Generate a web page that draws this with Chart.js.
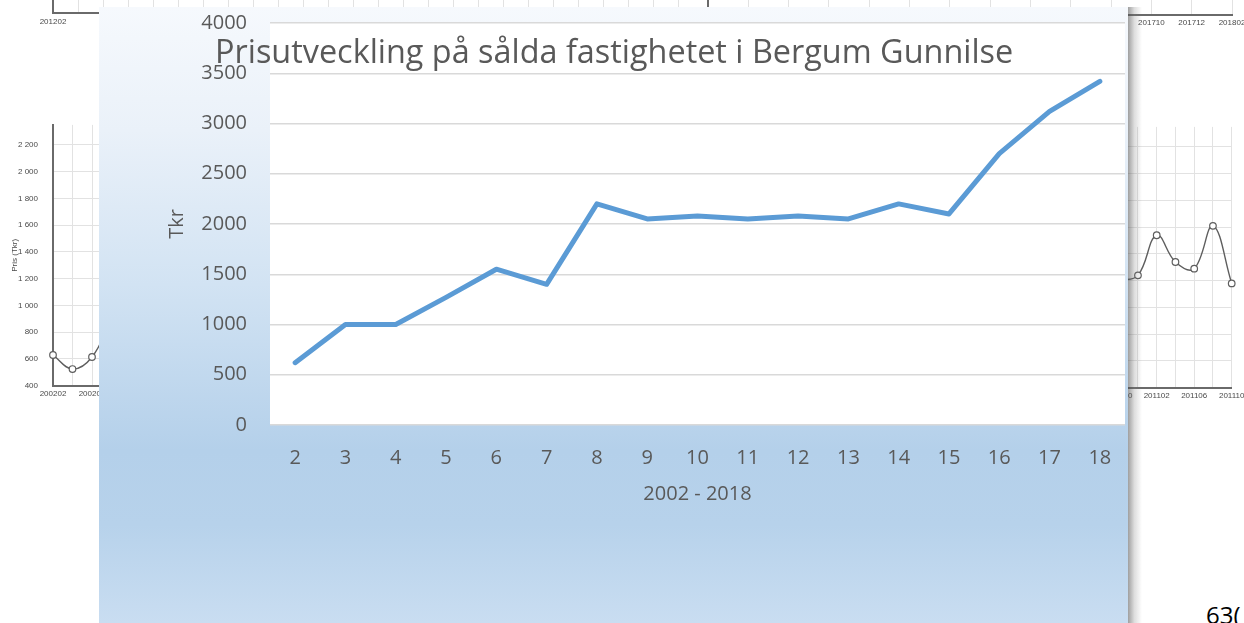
<!DOCTYPE html>
<html>
<head>
<meta charset="utf-8">
<script src="https://cdn.jsdelivr.net/npm/chart.js@4.4.1/dist/chart.umd.min.js"></script>
<style>
  html, body { margin: 0; padding: 0; width: 1244px; height: 623px; overflow: hidden; background: #fff; }
  body { position: relative; }
  .bg { position: absolute; filter: blur(0.35px); z-index: 0; }
  #panel {
    position: absolute; left: 99px; top: 7px; width: 1029px; height: 616px; z-index: 2;
    background: linear-gradient(to bottom, #f6f9fd 0%, #eaf1f9 20%, #d2e3f3 45%, #b4d0ea 72%, #b7d2eb 84%, #c9ddf1 100%);
  }
  #shadow {
    position: absolute; left: 1128px; top: 7px; width: 14px; height: 616px; z-index: 2;
    background: linear-gradient(to right, rgba(80,80,80,0.55), rgba(120,120,120,0.25) 45%, rgba(255,255,255,0));
  }
  #main { position: absolute; left: 0; top: 0; z-index: 3; }
  #pageNo {
    position: absolute; left: 1206px; top: 603px; z-index: 1;
    font: 24px "Open Sans"; line-height: 24px; color: #000; white-space: nowrap;
  }
</style>
</head>
<body>
<canvas id="bgTopLeft" class="bg" width="700" height="330" style="left:0;top:-287px"></canvas>
<canvas id="bgTopRight" class="bg" width="612" height="330" style="left:640px;top:-286px"></canvas>
<canvas id="bgLeft" class="bg" width="360" height="310" style="left:0;top:100px"></canvas>
<canvas id="bgRight" class="bg" width="272" height="310" style="left:980px;top:100px"></canvas>
<div id="pageNo">63(</div>
<div id="panel"></div>
<div id="shadow"></div>
<canvas id="main" width="1244" height="623"></canvas>

<script>
// ---- main chart data ----
const chartTitle = 'Prisutveckling på sålda fastighetet i Bergum Gunnilse';
const yearLabels = ['2', '3', '4', '5', '6', '7', '8', '9', '10', '11', '12', '13', '14', '15', '16', '17', '18'];
const priceTkr = [620, 1000, 1000, 1270, 1550, 1400, 2200, 2050, 2080, 2050, 2080, 2050, 2200, 2100, 2700, 3120, 3420];
const xAxisTitle = '2002 - 2018';
const yAxisTitle = 'Tkr';

// ---- small charts behind the slide ----
const leftMonths = ['200202', '200203', '200204', '200205', '200206', '200207', '200208', '200209',
                    '200210', '200211', '200212', '200301', '200302', '200303', '200304', '200305'];
const leftPrices = [630, 525, 615, 900, null, null, null, null, null, null, null, null, null, null, null, null];
const rightMonths = ['201002', '201004', '201006', '201008', '201010', '201012', '201102', '201104', '201106', '201108', '201110'];
const rightPrices = [null, null, null, null, 1200, 1240, 1540, 1340, 1290, 1610, 1180];
const topLeftMonths = ['201202', '201203', '201204', '201205', '201206', '201207', '201208', '201209', '201210',
                       '201211', '201212', '201301', '201302', '201303', '201304', '201305', '201306', '201307',
                       '201308', '201309', '201310', '201311', '201312', '201401', '201402', '201403'];
const topRightMonths = ['201512', '201602', '201604', '201606', '201608', '201610', '201612',
                        '201702', '201704', '201706', '201708', '201710', '201712', '201802'];
const smallAxisTitle = 'Pris (Tkr)';

const TEXT = '#595959';
const MAIN_FONT = 'Open Sans';

// white plot area behind the grid
const plotBackground = {
  id: 'plotBackground',
  beforeDraw(chart) {
    const { ctx, chartArea: a } = chart;
    ctx.save();
    ctx.fillStyle = '#ffffff';
    ctx.fillRect(a.left, a.top, a.right - a.left, a.bottom - a.top);
    ctx.restore();
  }
};

// chart heading, set inside the top of the plot
const headingText = {
  id: 'headingText',
  afterDraw(chart) {
    const ctx = chart.ctx;
    ctx.save();
    ctx.font = '32.4px "' + MAIN_FONT + '"';
    ctx.fillStyle = TEXT;
    ctx.textAlign = 'left';
    ctx.textBaseline = 'alphabetic';
    ctx.fillText(chartTitle, 215, 63);
    ctx.restore();
  }
};

new Chart(document.getElementById('main'), {
  type: 'line',
  data: {
    labels: yearLabels,
    datasets: [{
      data: priceTkr,
      borderColor: '#5b9bd5',
      borderWidth: 5,
      borderCapStyle: 'round',
      borderJoinStyle: 'round',
      pointRadius: 0,
      tension: 0,
      fill: false
    }]
  },
  options: {
    responsive: false,
    animation: false,
    devicePixelRatio: 1,
    layout: { padding: { left: 150, top: 23, right: 119, bottom: 100 } },
    plugins: { legend: { display: false }, tooltip: { enabled: false }, title: { display: false } },
    scales: {
      x: {
        type: 'category',
        offset: true,
        grid: { display: false },
        border: { display: false },
        ticks: { color: TEXT, font: { family: MAIN_FONT, size: 20 }, padding: 13, maxRotation: 0, minRotation: 0, autoSkip: false },
        title: { display: true, text: xAxisTitle, color: TEXT, font: { family: MAIN_FONT, size: 20 }, padding: { top: 0, bottom: 17 } },
        afterFit(s) { s.height = 98; }
      },
      y: {
        min: 0,
        max: 4000,
        // invisible tick marks keep the labels clear of the plot without padding the top
        grid: { color: '#d9d9d9', lineWidth: 1.5, drawTicks: true, tickLength: 23, tickColor: 'rgba(0,0,0,0)' },
        border: { display: false },
        ticks: { stepSize: 500, color: TEXT, font: { family: MAIN_FONT, size: 20 }, padding: 0, callback: v => String(v) },
        title: { display: true, text: yAxisTitle, color: TEXT, font: { family: MAIN_FONT, size: 20 }, padding: { top: 15, bottom: 0 } },
        afterFit(s) { s.width = 120; }
      }
    }
  },
  plugins: [plotBackground, headingText]
});

// ---- helper for the small grey line charts ----
const GRID = '#e2e2e2';
const AXIS = '#6a6a6a';
const SMALL_TEXT = '#4a4a4a';
const smallFont = { family: 'Liberation Sans', size: 8 };
const spaced = v => String(v).replace(/\B(?=(\d{3})+(?!\d))/g, ' ');

function smallChart(id, o) {
  return new Chart(document.getElementById(id), {
    type: 'line',
    data: {
      labels: o.labels,
      datasets: [{
        data: o.values,
        borderColor: '#5e5e5e',
        borderWidth: 1.4,
        tension: 0.4,
        pointRadius: 3.3,
        pointBackgroundColor: '#ffffff',
        pointBorderColor: '#5e5e5e',
        pointBorderWidth: 1.2,
        spanGaps: false
      }]
    },
    options: {
      responsive: false,
      animation: false,
      devicePixelRatio: 1,
      layout: { padding: o.padding },
      plugins: { legend: { display: false }, tooltip: { enabled: false } },
      scales: {
        x: {
          offset: false,
          grid: { color: GRID, lineWidth: 1, drawTicks: false },
          border: { color: AXIS, width: 2 },
          ticks: {
            color: SMALL_TEXT, font: smallFont, padding: o.xPad, maxRotation: 0, minRotation: 0, autoSkip: false,
            callback(v, i) { return i % o.every === o.phase ? this.getLabelForValue(v) : ''; }
          },
          afterFit(s) { s.height = o.xHeight; }
        },
        y: {
          min: 400,
          max: 2350,
          grid: { color: GRID, lineWidth: 1, drawTicks: false },
          border: { color: AXIS, width: 2 },
          ticks: { display: o.yTicks, stepSize: 200, includeBounds: false, color: SMALL_TEXT, font: smallFont, padding: 15, callback: v => spaced(v) },
          title: { display: !!o.yTitle, text: o.yTitle || '', color: SMALL_TEXT, font: smallFont, padding: { top: 10, bottom: 0 } },
          afterFit(s) { s.width = o.yWidth; }
        }
      }
    }
  });
}

smallChart('bgLeft', {
  labels: leftMonths, values: leftPrices, every: 2, phase: 0,
  padding: { left: 0, top: 24.9, right: 14.5, bottom: 0 },
  yWidth: 53, xHeight: 24.25, xPad: 3, yTicks: true, yTitle: smallAxisTitle
});
smallChart('bgRight', {
  labels: rightMonths, values: rightPrices, every: 2, phase: 0,
  padding: { left: 0, top: 26.9, right: 20.3, bottom: 0 },
  yWidth: 64.2, xHeight: 22.3, xPad: 3, yTicks: false
});
smallChart('bgTopLeft', {
  labels: topLeftMonths, values: [], every: 4, phase: 0,
  padding: { left: 0, top: 30, right: 22, bottom: 0 },
  yWidth: 53, xHeight: 30, xPad: 4, yTicks: false
});
smallChart('bgTopRight', {
  labels: topRightMonths, values: [], every: 1, phase: 0,
  padding: { left: 0, top: 30, right: 20, bottom: 0 },
  yWidth: 68, xHeight: 29.5, xPad: 3.4, yTicks: false
});
</script>
</body>
</html>
